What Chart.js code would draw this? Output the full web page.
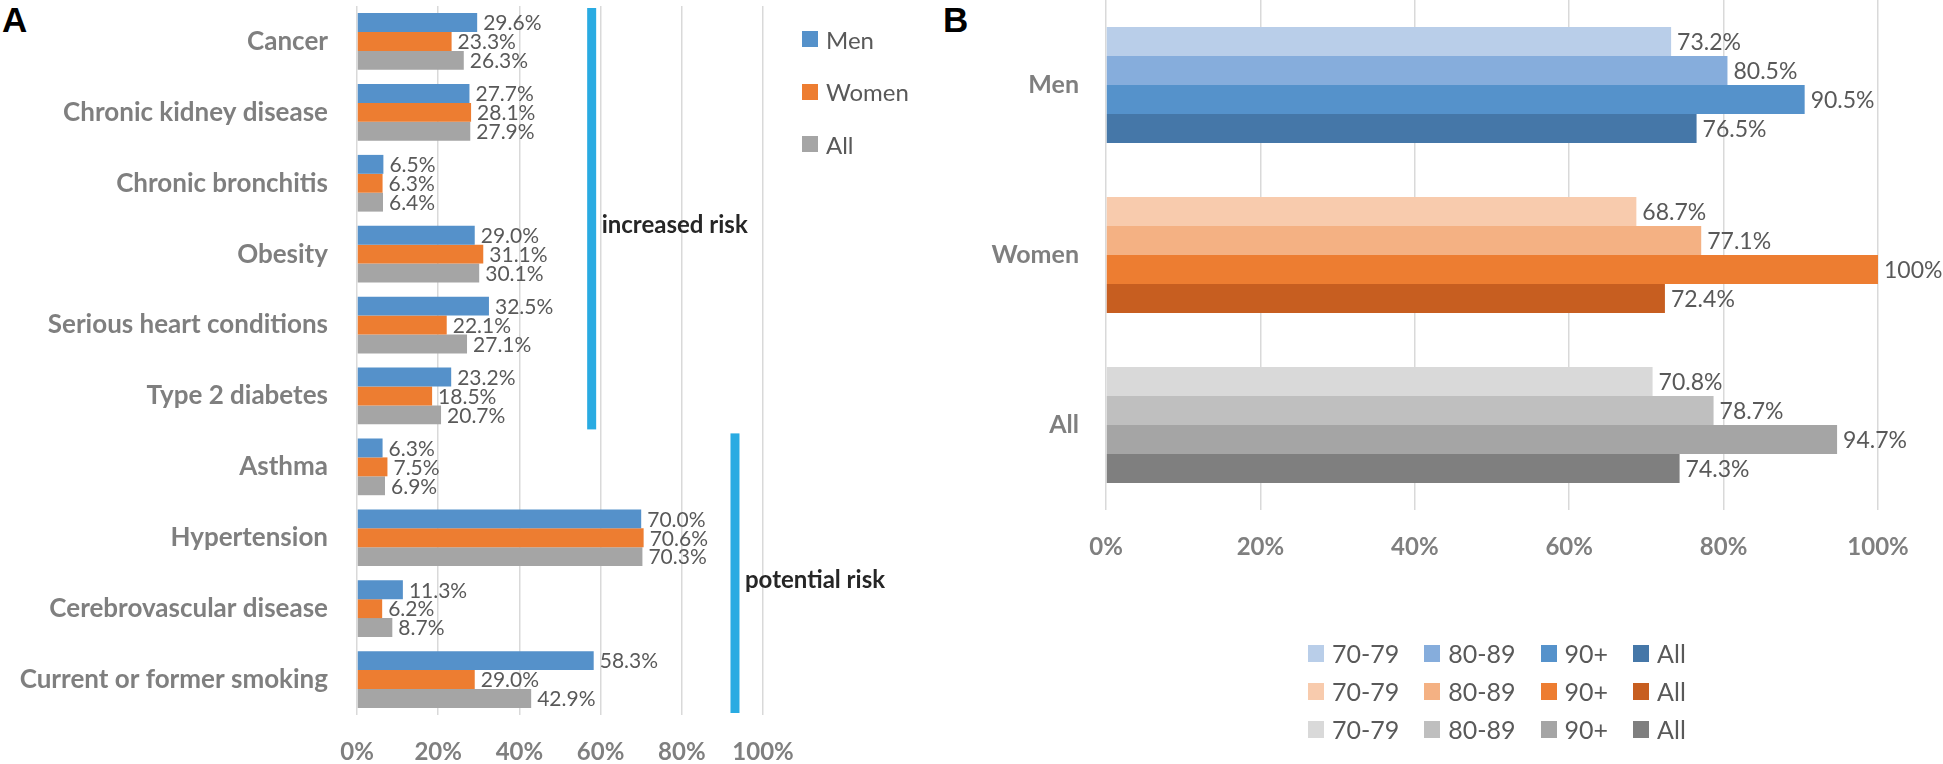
<!DOCTYPE html>
<html>
<head>
<meta charset="utf-8">
<script src="https://cdn.jsdelivr.net/npm/chart.js@4.4.1/dist/chart.umd.min.js"></script>
<style>
  body { margin: 0; width: 1943px; height: 764px; background: #fff; position: relative; overflow: hidden; font-family: Lato, sans-serif; }
  canvas { position: absolute; top: 0; }
  #chart-a { left: 0; }
  #chart-b { left: 940px; }
  .panel-tag { position: absolute; top: 2px; font: bold 35px "Liberation Sans", Arial, sans-serif; line-height: 35px; color: #000; }
  .legend { position: absolute; color: #595959; }
  .legend .item { display: flex; align-items: center; white-space: nowrap; }
  .legend .swatch { display: inline-block; width: 16px; height: 16px; margin-right: 8px; }
  #legend-a { left: 802px; top: 13px; font-size: 24px; }
  #legend-a .item { height: 52.5px; }
  #legend-b { left: 1308px; top: 634px; font-size: 25px; }
  #legend-b .row { display: flex; align-items: center; height: 38px; }
  #legend-b .item { margin-right: 25px; }
</style>
</head>
<body>
<div class="panel-tag" style="left:2px">A</div>
<div class="panel-tag" style="left:943px">B</div>
<canvas id="chart-a" width="940" height="764"></canvas>
<canvas id="chart-b" width="1003" height="764"></canvas>
<div id="legend-a" class="legend"></div>
<div id="legend-b" class="legend"></div>
<script>
// Panel A: risk factors by sex (%)
const riskCategories = [
  "Cancer", "Chronic kidney disease", "Chronic bronchitis", "Obesity",
  "Serious heart conditions", "Type 2 diabetes", "Asthma", "Hypertension",
  "Cerebrovascular disease", "Current or former smoking",
];
const riskMen = [29.6, 27.7, 6.5, 29.0, 32.5, 23.2, 6.3, 70.0, 11.3, 58.3];
const riskWomen = [23.3, 28.1, 6.3, 31.1, 22.1, 18.5, 7.5, 70.6, 6.2, 29.0];
const riskAll = [26.3, 27.9, 6.4, 30.1, 27.1, 20.7, 6.9, 70.3, 8.7, 42.9];
const riskSeries = ["Men", "Women", "All"];
// bracket groups: category index range, drawn at an x value (%)
const riskGroups = [
  { label: "increased risk", x: 57.8, first: 0, last: 5 },
  { label: "potential risk", x: 93.1, first: 6, last: 9 },
];

// Panel B: by sex and age band (%)
const sexGroups = ["Men", "Women", "All"];
const ageBands = ["70-79", "80-89", "90+", "All"];
const age7079 = [73.2, 68.7, 70.8];
const age8089 = [80.5, 77.1, 78.7];
const age90plus = [90.5, 100, 94.7];
const ageAll = [76.5, 72.4, 74.3];

const percentTicks = [0, 20, 40, 60, 80, 100];

const riskColors = ["#5591ca", "#ed7d31", "#a5a5a5"];
// per age band: [men, women, all]
const agePalette = [
  ["#b9cee9", "#f8cbad", "#d9d9d9"],
  ["#86addc", "#f4b183", "#bfbfbf"],
  ["#5592cb", "#ed7d31", "#a5a5a5"],
  ["#4577a8", "#c75e20", "#7f7f7f"],
];

const axisGrey = "#7f7f7f";
const labelGrey = "#595959";

// value at the end of every bar
function valueLabels(size) {
  return {
    id: "valueLabels",
    afterDatasetsDraw(chart) {
      const { ctx } = chart;
      ctx.save();
      ctx.font = `${size}px Lato`;
      ctx.fillStyle = labelGrey;
      ctx.textBaseline = "middle";
      ctx.textAlign = "left";
      chart.data.datasets.forEach((ds, i) => {
        chart.getDatasetMeta(i).data.forEach((bar, j) => {
          const v = ds.data[j];
          const txt = (v === 100 ? "100" : v.toFixed(1)) + "%";
          ctx.fillText(txt, bar.x + 6, bar.y + 1);
        });
      });
      ctx.restore();
    },
  };
}

const riskBrackets = {
  id: "riskBrackets",
  afterDraw(chart) {
    const { ctx, scales: { x, y } } = chart;
    const band = y.getPixelForValue(1) - y.getPixelForValue(0);
    ctx.save();
    riskGroups.forEach((g) => {
      const cx = x.getPixelForValue(g.x);
      const top = y.getPixelForValue(g.first) - band / 2 + 2;
      const bottom = y.getPixelForValue(g.last) + band / 2 - 2;
      ctx.fillStyle = "#29abe2";
      ctx.fillRect(cx - 4.5, top, 9, bottom - top);
      ctx.fillStyle = "#262626";
      ctx.font = "bold 24px Lato";
      ctx.textBaseline = "middle";
      ctx.fillText(g.label, cx + 10, (top + bottom) / 2 + 7);
    });
    ctx.restore();
  },
};

function percentAxis(padding, height) {
  return {
    min: 0,
    max: 100,
    afterBuildTicks: (s) => { s.ticks = percentTicks.map((v) => ({ value: v })); },
    ticks: {
      callback: (v) => v + "%",
      color: axisGrey,
      font: { family: "Lato", size: 24, weight: "bold" },
      padding,
    },
    grid: { color: "#d9d9d9", lineWidth: 1.5, drawTicks: false },
    border: { display: false },
    afterFit: (s) => { s.height = height; },
  };
}

function categoryAxis(width, padding, size) {
  return {
    ticks: { color: axisGrey, font: { family: "Lato", size, weight: "bold" }, padding, autoSkip: false },
    grid: { display: false, drawTicks: false },
    border: { display: false },
    afterFit: (s) => {
      s.width = width;
      s.paddingTop = 0;
      s.paddingBottom = 0;
    },
  };
}

new Chart(document.getElementById("chart-a"), {
  type: "bar",
  data: {
    labels: riskCategories,
    datasets: [riskMen, riskWomen, riskAll].map((data, i) => ({
      label: riskSeries[i],
      data,
      backgroundColor: riskColors[i],
    })),
  },
  options: {
    indexAxis: "y",
    responsive: false,
    animation: false,
    layout: { padding: { top: 6, right: 177, bottom: 0, left: 0 } },
    datasets: { bar: { categoryPercentage: 0.8, barPercentage: 1 } },
    scales: {
      x: percentAxis(23, 49),
      y: categoryAxis(357, 29, 26),
    },
    plugins: { legend: { display: false }, tooltip: { enabled: false } },
  },
  plugins: [valueLabels(21), riskBrackets],
});

new Chart(document.getElementById("chart-b"), {
  type: "bar",
  data: {
    labels: sexGroups,
    datasets: [age7079, age8089, age90plus, ageAll].map((data, i) => ({
      label: ageBands[i],
      data,
      backgroundColor: agePalette[i],
    })),
  },
  options: {
    indexAxis: "y",
    responsive: false,
    animation: false,
    layout: { padding: { top: 0, right: 65, bottom: 174, left: 0 } },
    datasets: { bar: { categoryPercentage: 0.682, barPercentage: 1 } },
    scales: {
      x: percentAxis(23, 80),
      y: categoryAxis(166, 27, 25),
    },
    plugins: { legend: { display: false }, tooltip: { enabled: false } },
  },
  plugins: [valueLabels(23)],
});

// legends
const legendA = document.getElementById("legend-a");
riskSeries.forEach((name, i) => {
  legendA.insertAdjacentHTML("beforeend",
    `<div class="item"><span class="swatch" style="background:${riskColors[i]}"></span>${name}</div>`);
});

const legendB = document.getElementById("legend-b");
sexGroups.forEach((g, row) => {
  const items = ageBands.map((band, i) =>
    `<div class="item"><span class="swatch" style="background:${agePalette[i][row]};height:17px"></span>${band}</div>`).join("");
  legendB.insertAdjacentHTML("beforeend", `<div class="row">${items}</div>`);
});
</script>
</body>
</html>
